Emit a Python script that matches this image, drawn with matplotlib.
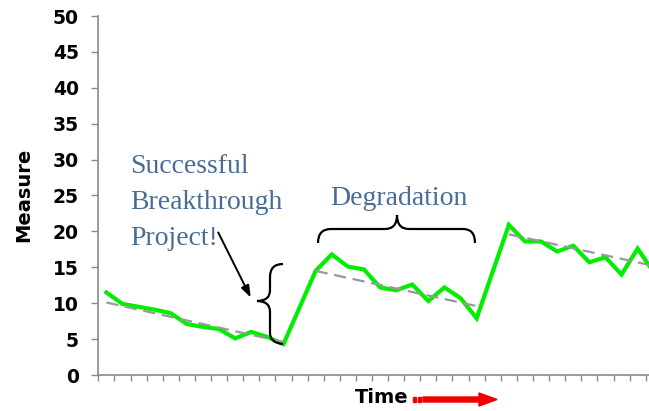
import matplotlib
matplotlib.use("Agg")
import matplotlib.pyplot as plt
from matplotlib.path import Path
from matplotlib.patches import PathPatch, FancyArrowPatch, Rectangle, FancyArrow
import numpy as np

# ---- data ----
measure = [11.5, 9.9, 9.5, 9.1, 8.6, 7.1, 6.7, 6.4, 5.1, 6.0, 5.3, 4.3,
           9.4,
           14.5, 16.8, 15.1, 14.7, 12.2, 11.8, 12.6, 10.3, 12.2, 10.7, 7.9,
           14.4,
           20.9, 18.6, 18.6, 17.2, 18.0, 15.7, 16.4, 14.0, 17.6, 14.3]
trend1_idx = [0, 11]
trend1 = [10.1, 4.6]
trend2_idx = [13, 23]
trend2 = [14.5, 9.6]
trend3_idx = [25, 34]
trend3 = [19.6, 15.2]
y_ticks = [0, 5, 10, 15, 20, 25, 30, 35, 40, 45, 50]

W, H = 649, 411
fig = plt.figure(figsize=(W / 100, H / 100), dpi=100)


def px(x, y):
    return (x / W, 1 - y / H)


n = len(measure)
left, bottom, top = 98.3, 375.0, 16.0
step = 16.1
ax = fig.add_axes([left / W, (H - bottom) / H, n * step / W, (bottom - top) / H])

xs = np.arange(n) + 0.5
ax.plot(xs, measure, color="#00EE00", lw=3.0, solid_joinstyle="miter", zorder=3)
for idx, tv in [(trend1_idx, trend1), (trend2_idx, trend2), (trend3_idx, trend3)]:
    ax.plot(np.array(idx) + 0.5, tv, color="#999999", lw=1.6,
            dashes=(5.5, 3), zorder=4)

ax.set_xlim(0, n)
ax.set_ylim(0, 50)
ax.set_yticks(y_ticks)
ax.set_xticks(np.arange(0, n + 1))
ax.set_xticklabels([])
for s in ["top", "right"]:
    ax.spines[s].set_visible(False)
for s in ["left", "bottom"]:
    ax.spines[s].set_color("#8a8a8a")
    ax.spines[s].set_linewidth(1.2)
ax.tick_params(axis="y", direction="out", length=5, width=1, color="#8a8a8a",
               pad=9, labelsize=13.5)
ax.tick_params(axis="x", direction="out", length=4, width=1, color="#8a8a8a")
for lab in ax.get_yticklabels():
    lab.set_fontfamily("DejaVu Sans")
    lab.set_fontweight("bold")

# axis titles
fig.text(*px(24, 195), "Measure", rotation=90, ha="center", va="center",
         fontsize=14, fontweight="bold", family="DejaVu Sans")
fig.text(*px(355, 403), "Time", ha="left", va="baseline",
         fontsize=14, fontweight="bold", family="DejaVu Sans")

# red arrow next to "Time"
red = "#EE0000"
tr = fig.transFigure
for x0, w in [(413, 3), (418, 3)]:
    fig.patches.append(Rectangle(px(x0, 402), w / W, 5 / H, transform=tr,
                                 color=red, zorder=5))
fig.patches.append(FancyArrow(423 / W, 1 - 399.5 / H, 74 / W, 0, width=5 / H,
                              head_width=13 / H, head_length=18 / W,
                              length_includes_head=True, transform=tr,
                              color=red, zorder=5))

# annotation texts
tcol = "#4A6C96"
serif = "Liberation Serif"
fig.text(*px(130, 173), "Successful", ha="left", va="baseline", fontsize=20,
         family=serif, color=tcol)
fig.text(*px(130, 209), "Breakthrough", ha="left", va="baseline", fontsize=20,
         family=serif, color=tcol)
fig.text(*px(130, 245), "Project!", ha="left", va="baseline", fontsize=20,
         family=serif, color=tcol)
fig.text(*px(330, 205), "Degradation", ha="left", va="baseline", fontsize=20,
         family=serif, color=tcol)

# braces
def brace(points, codes):
    verts = [px(x, y) for x, y in points]
    p = Path(verts, codes)
    fig.patches.append(PathPatch(p, transform=tr, fill=False, lw=1.6,
                                 edgecolor="black", zorder=6))


M, L, C3 = Path.MOVETO, Path.LINETO, Path.CURVE3
brace([(318, 243), (318, 229), (331, 229), (385, 229), (397, 229), (397, 215),
       (397, 229), (409, 229), (463, 229), (475, 229), (475, 243)],
      [M, C3, C3, L, C3, C3, C3, C3, L, C3, C3])
brace([(283, 264), (270, 264), (270, 277), (270, 290), (270, 301), (257, 301),
       (270, 301), (270, 312), (270, 333), (270, 343), (283, 344)],
      [M, C3, C3, L, C3, C3, C3, C3, L, C3, C3])

# arrow from "Project!"
fig.patches.append(FancyArrowPatch(px(217, 230), px(252, 300), transform=tr,
                                   arrowstyle="-|>,head_length=7,head_width=2.5",
                                   lw=1.4, color="black", zorder=6))

fig.savefig("out.png", dpi=100)
